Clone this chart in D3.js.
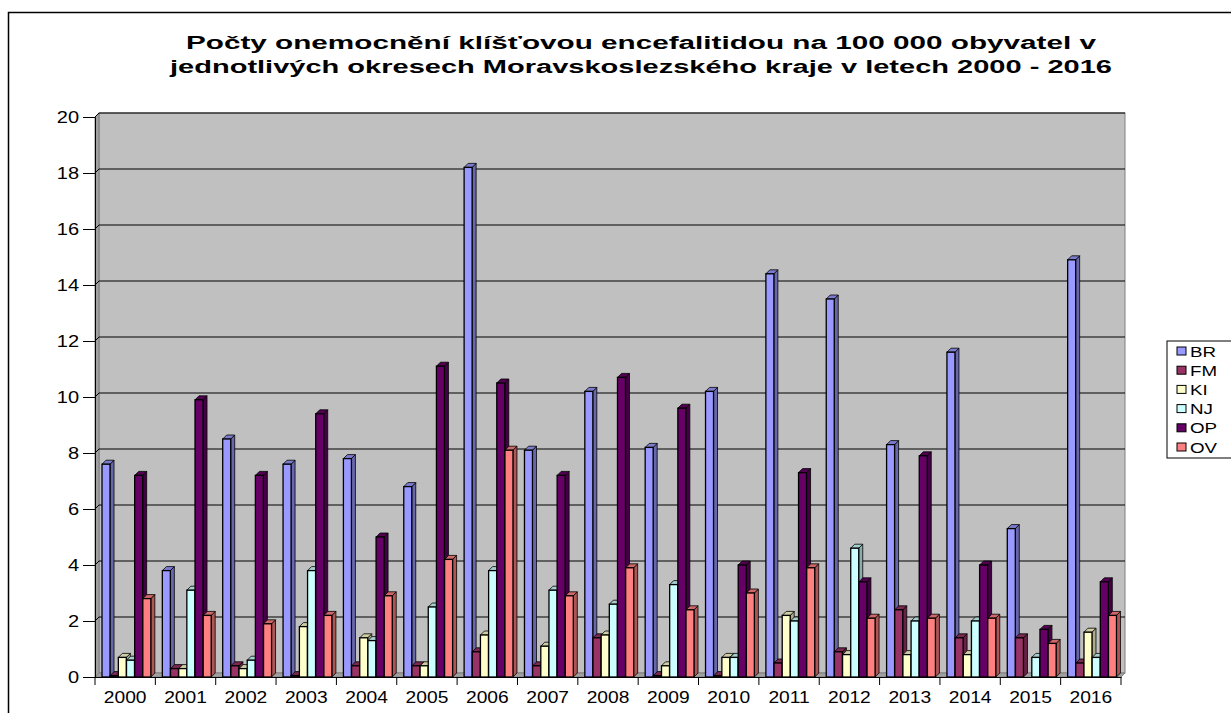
<!DOCTYPE html>
<html>
<head>
<meta charset="utf-8">
<script src="https://cdn.jsdelivr.net/npm/d3@7"></script>
<style>
  body { margin: 0; background: #fff; }
  text { font-family: "Liberation Sans", Arial, sans-serif; }
</style>
</head>
<body>
<svg width="1231" height="713"></svg>
<script>
// data
const years = ["2000","2001","2002","2003","2004","2005","2006","2007","2008",
               "2009","2010","2011","2012","2013","2014","2015","2016"];
const series = ["BR","FM","KI","NJ","OP","OV"];
const BR = [7.6, 3.8, 8.5, 7.6, 7.8, 6.8, 18.2, 8.1, 10.2, 8.2, 10.2, 14.4, 13.5, 8.3, 11.6, 5.3, 14.9];
const FM = [0.05, 0.3, 0.4, 0.05, 0.4, 0.4, 0.9, 0.4, 1.4, 0.05, 0.05, 0.5, 0.9, 2.4, 1.4, 1.4, 0.5];
const KI = [0.7, 0.3, 0.3, 1.8, 1.4, 0.4, 1.5, 1.1, 1.5, 0.4, 0.7, 2.2, 0.8, 0.8, 0.8, 0, 1.6];
const NJ = [0.6, 3.1, 0.6, 3.8, 1.3, 2.5, 3.8, 3.1, 2.6, 3.3, 0.7, 2.0, 4.6, 2.0, 2.0, 0.7, 0.7];
const OP = [7.2, 9.9, 7.2, 9.4, 5.0, 11.1, 10.5, 7.2, 10.7, 9.6, 4.0, 7.3, 3.4, 7.9, 4.0, 1.7, 3.4];
const OV = [2.8, 2.2, 1.9, 2.2, 2.9, 4.2, 8.1, 2.9, 3.9, 2.4, 3.0, 3.9, 2.1, 2.1, 2.1, 1.2, 2.2];
const yTicks = [0, 2, 4, 6, 8, 10, 12, 14, 16, 18, 20];
const colors = ["#9999FF", "#993366", "#FFFFCC", "#CCFFFF", "#660066", "#FF8080"];
const titleLines = ["Počty onemocnění klíšťovou encefalitidou na 100 000 obyvatel v",
                    "jednotlivých okresech Moravskoslezského kraje v letech 2000 - 2016"];

const values = [BR, FM, KI, NJ, OP, OV];
const svg = d3.select("svg");
const dep = 4; // 3d depth

const x0 = d3.scaleBand().domain(years).range([95, 1121]);
const x1 = d3.scaleBand().domain(series).range([7, 56]);
const y = d3.scaleLinear().domain([0, 20]).range([677, 117]);
const color = d3.scaleOrdinal().domain(series).range(colors);

// excel text looks stretched sideways
function stretch(sel, k) {
  sel.each(function() {
    const w = this.getComputedTextLength();
    d3.select(this).attr("textLength", w * k).attr("lengthAdjust", "spacingAndGlyphs");
  });
}

// outer frame
svg.append("rect")
  .attr("x", 8.5).attr("y", 12.5).attr("width", 1240).attr("height", 720)
  .attr("fill", "#fff").attr("stroke", "#000").attr("stroke-width", 1.5);

// title
svg.selectAll(".title").data(titleLines).join("text")
  .attr("class", "title")
  .attr("x", 641).attr("y", (d, i) => 49 + i * 24)
  .attr("text-anchor", "middle")
  .attr("font-size", 18).attr("font-weight", "bold")
  .attr("textLength", (d, i) => i == 0 ? 910 : 942)
  .attr("lengthAdjust", "spacingAndGlyphs")
  .text(d => d);

const L = x0.range()[0], R = x0.range()[1], B = y(0), T = y(20);

// back wall
svg.append("rect")
  .attr("x", L + dep).attr("y", T - dep).attr("width", R - L).attr("height", B - T)
  .attr("fill", "#C0C0C0").attr("stroke", "#808080");
// side wall
svg.append("path")
  .attr("d", `M${L},${T}L${L + dep},${T - dep}L${L + dep},${B - dep}L${L},${B}Z`)
  .attr("fill", "#A0A0A0").attr("stroke", "#808080");
// floor
svg.append("path")
  .attr("d", `M${L},${B}L${L + dep},${B - dep}L${R + dep},${B - dep}L${R},${B}Z`)
  .attr("fill", "#A0A0A0").attr("stroke", "#808080");

// gridlines
svg.selectAll(".grid").data(yTicks.filter(t => t > 0)).join("path")
  .attr("class", "grid")
  .attr("d", t => `M${L},${y(t)}L${L + dep},${y(t) - dep}L${R + dep},${y(t) - dep}`)
  .attr("fill", "none").attr("stroke", "#000").attr("stroke-width", 1);

// bars
const shade = (c, k) => d3.rgb(c).darker(k);
const yearG = svg.selectAll(".year").data(years).join("g")
  .attr("class", "year")
  .attr("transform", d => `translate(${x0(d)},0)`);

const bw = 8;
yearG.each(function(yr, yi) {
  const g = d3.select(this);
  series.forEach((s, si) => {
    const v = values[si][yi];
    if (v <= 0) return;
    const bx = x1(s), top = y(v), c = color(s);
    g.append("path")
      .attr("d", `M${bx + bw},${top}L${bx + bw + dep},${top - dep}L${bx + bw + dep},${B - dep}L${bx + bw},${B}Z`)
      .attr("fill", shade(c, 1.1)).attr("stroke", "#000").attr("stroke-width", 0.8);
    g.append("path")
      .attr("d", `M${bx},${top}L${bx + dep},${top - dep}L${bx + bw + dep},${top - dep}L${bx + bw},${top}Z`)
      .attr("fill", shade(c, 0.6)).attr("stroke", "#000").attr("stroke-width", 0.8);
    g.append("rect")
      .attr("x", bx).attr("y", top).attr("width", bw).attr("height", B - top)
      .attr("fill", c).attr("stroke", "#000").attr("stroke-width", 1.3);
  });
});

// y axis
const yAxis = svg.append("g").attr("transform", `translate(${L},0)`)
  .call(d3.axisLeft(y).tickValues(yTicks).tickSize(12).tickPadding(4));
yAxis.select(".domain").attr("stroke", "#000");
yAxis.selectAll("text").attr("font-size", 16).attr("font-family", "Liberation Sans, Arial").attr("fill", "#000")
  .call(stretch, 1.25);

// x axis
const xAxis = svg.append("g").attr("transform", `translate(0,${B})`)
  .call(d3.axisBottom(x0).tickSize(0).tickPadding(15));
xAxis.select(".domain").attr("stroke", "#000");
xAxis.selectAll("text").attr("font-size", 16).attr("font-family", "Liberation Sans, Arial").attr("fill", "#000")
  .call(stretch, 1.2);
xAxis.selectAll(".sep").data(years.concat(["end"])).join("line")
  .attr("class", "sep")
  .attr("x1", (d, i) => L + i * x0.step()).attr("x2", (d, i) => L + i * x0.step())
  .attr("y1", 0).attr("y2", 8).attr("stroke", "#000");

// legend
const lg = svg.append("g").attr("transform", "translate(1167,341)");
lg.append("rect").attr("width", 80).attr("height", 117)
  .attr("fill", "#fff").attr("stroke", "#000");
const li = lg.selectAll(".li").data(series).join("g")
  .attr("class", "li")
  .attr("transform", (d, i) => `translate(10,${10 + i * 19.2})`);
li.append("rect").attr("y", -4).attr("width", 9).attr("height", 8)
  .attr("fill", d => color(d)).attr("stroke", "#000");
li.append("text").attr("x", 13).attr("y", 5.5).attr("font-size", 15).text(d => d)
  .call(stretch, 1.25);
</script>
</body>
</html>
